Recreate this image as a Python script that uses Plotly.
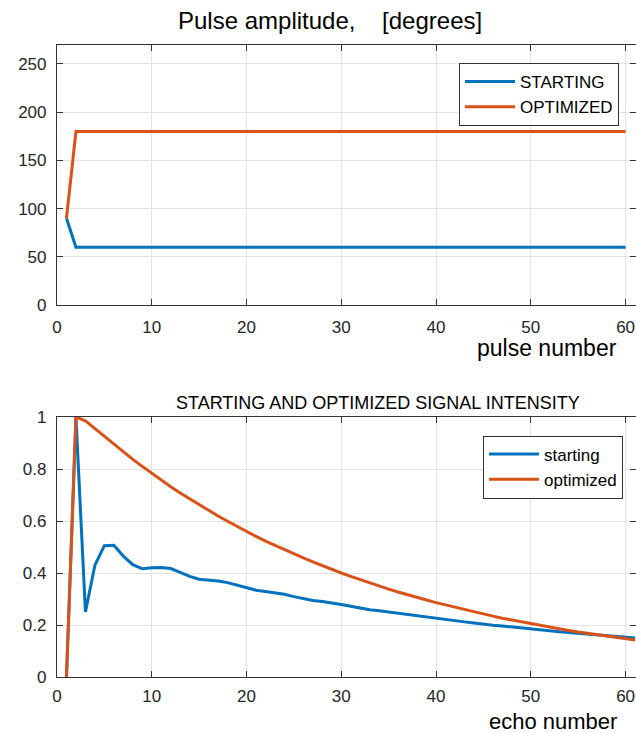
import plotly.graph_objects as go

# ---------------- data ----------------
pulse_number = list(range(1, 61))
pulse_starting = [90] + [60] * 59
pulse_optimized = [90] + [180] * 59

echo_number = list(range(1, 62))
signal_starting = [
    0.0, 1.0, 0.25, 0.43, 0.505, 0.507, 0.465, 0.432, 0.416, 0.42,
    0.421, 0.417, 0.402, 0.387, 0.376, 0.373, 0.369, 0.363, 0.353, 0.344,
    0.334, 0.329, 0.324, 0.318, 0.309, 0.301, 0.294, 0.29, 0.285, 0.279,
    0.272, 0.265, 0.259, 0.255, 0.25, 0.246, 0.24, 0.235, 0.23, 0.226,
    0.222, 0.217, 0.212, 0.208, 0.203, 0.199, 0.196, 0.192, 0.188, 0.184,
    0.18, 0.177, 0.174, 0.171, 0.168, 0.164, 0.161, 0.158, 0.155, 0.152,
    0.15,
]
signal_optimized = [
    0.0, 1.0, 0.985, 0.955, 0.925, 0.895, 0.865, 0.837, 0.81, 0.783,
    0.757, 0.732, 0.708, 0.685, 0.662, 0.64, 0.619, 0.599, 0.579, 0.56,
    0.541, 0.523, 0.506, 0.49, 0.473, 0.458, 0.443, 0.428, 0.414, 0.40,
    0.387, 0.374, 0.362, 0.35, 0.338, 0.327, 0.316, 0.306, 0.296, 0.286,
    0.277, 0.268, 0.259, 0.25, 0.242, 0.234, 0.226, 0.219, 0.212, 0.205,
    0.198, 0.192, 0.185, 0.179, 0.173, 0.168, 0.162, 0.157, 0.152, 0.147,
    0.142,
]

x_ticks = [0, 10, 20, 30, 40, 50, 60]
top_y_ticks = [0, 50, 100, 150, 200, 250]
bottom_y_ticks = [0, 0.2, 0.4, 0.6, 0.8, 1.0]
bottom_y_labels = ["0", "0.2", "0.4", "0.6", "0.8", "1"]

BLUE = "#0072BD"
ORANGE = "#D95319"
FONT = "Liberation Sans, Arial, sans-serif"
TICKC = "#262626"

fig = go.Figure()
fig.add_trace(go.Scatter(x=pulse_number, y=pulse_starting, mode="lines", name="STARTING",
                         line=dict(color=BLUE, width=3), xaxis="x", yaxis="y", legend="legend"))
fig.add_trace(go.Scatter(x=pulse_number, y=pulse_optimized, mode="lines", name="OPTIMIZED",
                         line=dict(color=ORANGE, width=3), xaxis="x", yaxis="y", legend="legend"))
fig.add_trace(go.Scatter(x=echo_number, y=signal_starting, mode="lines", name="starting",
                         line=dict(color=BLUE, width=3), xaxis="x2", yaxis="y2", legend="legend2"))
fig.add_trace(go.Scatter(x=echo_number, y=signal_optimized, mode="lines", name="optimized",
                         line=dict(color=ORANGE, width=3), xaxis="x2", yaxis="y2", legend="legend2"))

W, H = 636, 733
L = 57
PW = W - L

def py(px):
    return 1 - px / H

def pxx(px):
    return (px - L) / PW

axis_common = dict(
    showline=True, linecolor="#333333", linewidth=1.2, mirror="ticks",
    ticks="inside", ticklen=6, tickcolor="#333333", tickwidth=1,
    showgrid=True, gridcolor="#e3e3e3", gridwidth=1, zeroline=False,
    tickfont=dict(family=FONT, size=17, color=TICKC),
    automargin=False, ticklabeloverflow="allow",
)

fig.update_layout(
    width=W, height=H,
    margin=dict(l=L, r=0, t=0, b=0, autoexpand=False),
    paper_bgcolor="white", plot_bgcolor="white",
    showlegend=True,
    xaxis=dict(domain=[0, 1], range=[0, 61.1], tickvals=x_ticks, anchor="y",
               ticklabelstandoff=6, **axis_common),
    yaxis=dict(domain=[py(305), py(44.7)], range=[0, 270], tickvals=top_y_ticks, anchor="x",
               ticklabelstandoff=6, **axis_common),
    xaxis2=dict(domain=[0, 1], range=[0, 61.1], tickvals=x_ticks, anchor="y2",
                ticklabelstandoff=3, **axis_common),
    yaxis2=dict(domain=[py(677), py(417)], range=[0, 1], tickvals=bottom_y_ticks,
                ticktext=bottom_y_labels, anchor="x2", ticklabelstandoff=6, **axis_common),
    legend=dict(x=pxx(619), y=py(63), xanchor="right", yanchor="top",
                bgcolor="white", bordercolor="#333333", borderwidth=1,
                font=dict(family=FONT, size=17, color="#000000"), tracegroupgap=0,
                itemwidth=50),
    legend2=dict(x=pxx(623), y=py(435.5), xanchor="right", yanchor="top",
                 bgcolor="white", bordercolor="#333333", borderwidth=1,
                 font=dict(family=FONT, size=17, color="#000000"), tracegroupgap=0,
                 itemwidth=50),
    annotations=[
        dict(text="Pulse amplitude,\u00a0\u00a0\u00a0\u00a0[degrees]", xref="paper", yref="paper",
             x=pxx(330), y=py(21), xanchor="center", yanchor="middle", showarrow=False,
             font=dict(family=FONT, size=24, color="#000000")),
        dict(text="STARTING AND OPTIMIZED SIGNAL INTENSITY", xref="paper", yref="paper",
             x=pxx(378), y=py(403), xanchor="center", yanchor="middle", showarrow=False,
             font=dict(family=FONT, size=18, color="#000000")),
        dict(text="pulse number", xref="paper", yref="paper",
             x=pxx(619), y=py(348), xanchor="right", yanchor="middle", showarrow=False,
             font=dict(family=FONT, size=23, color="#000000")),
        dict(text="echo number", xref="paper", yref="paper",
             x=pxx(619), y=py(721), xanchor="right", yanchor="middle", showarrow=False,
             font=dict(family=FONT, size=22, color="#000000")),
    ],
)

fig.write_html(
    "out.html",
    config={"displayModeBar": False},
    post_script="document.body.style.margin='0';document.body.style.overflow='hidden';",
)
